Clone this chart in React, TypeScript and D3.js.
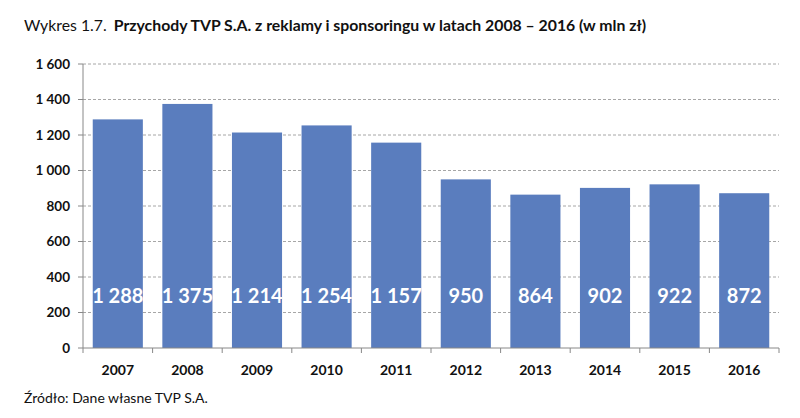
import React from "react";
import * as d3 from "d3";

const years = ["2007", "2008", "2009", "2010", "2011", "2012", "2013", "2014", "2015", "2016"];
const revenue = [1288, 1375, 1214, 1254, 1157, 950, 864, 902, 922, 872];
const yTicks = [0, 200, 400, 600, 800, 1000, 1200, 1400, 1600];
const titlePrefix = "Wykres 1.7.";
const titleMain = "Przychody TVP S.A. z reklamy i sponsoringu w latach 2008 – 2016 (w mln zł)";
const sourceText = "Źródło: Dane własne TVP S.A.";

const W = 800, H = 418;
const left = 83, right = 779, top = 64, bottom = 348;
const font = "Lato, 'Open Sans', sans-serif";

const fmt = (v: number) => {
  const s = String(v);
  return s.length > 3 ? s.slice(0, s.length - 3) + "\u00a0" + s.slice(-3) : s;
};

export default function App() {
  const x = d3.scaleBand<string>().domain(years).range([left, right]).paddingInner(0.28).paddingOuter(0.14);
  const y = d3.scaleLinear().domain([0, 1600]).range([bottom, top]);
  const step = (right - left) / years.length;
  return (
    <svg width={W} height={H} style={{ display: "block", position: "absolute", left: 0, top: 0 }} fontFamily={font}>
      <rect width={W} height={H} fill="#fff" />
      <text x={24} y={31} fontSize={15.8} fill="#111">
        <tspan>{titlePrefix}</tspan>
        <tspan dx={7} fontWeight="bold">{titleMain}</tspan>
      </text>
      {yTicks.filter((t) => t > 0).map((t) => (
        <line key={t} x1={left} x2={right} y1={y(t)} y2={y(t)} stroke="#a6a6a6" strokeWidth={1} strokeDasharray="3,2" />
      ))}
      {years.map((yr, i) => (
        <rect key={yr} x={x(yr)} y={y(revenue[i])} width={x.bandwidth()} height={bottom - y(revenue[i])} fill="#5a7dbe" />
      ))}
      <line x1={left} x2={left} y1={top} y2={bottom} stroke="#888" />
      <line x1={left} x2={right} y1={bottom} y2={bottom} stroke="#888" />
      {yTicks.map((t) => (
        <g key={t}>
          <line x1={left - 5} x2={left} y1={y(t)} y2={y(t)} stroke="#888" />
          <text x={70} y={y(t)} dy="0.35em" textAnchor="end" fontSize={13.5} fontWeight="bold" fill="#111">{fmt(t)}</text>
        </g>
      ))}
      {d3.range(years.length + 1).map((i) => (
        <line key={i} x1={left + i * step} x2={left + i * step} y1={bottom} y2={bottom + 5} stroke="#888" />
      ))}
      {years.map((yr, i) => (
        <g key={yr}>
          <text x={x(yr)! + x.bandwidth() / 2} y={370} dy="0.35em" textAnchor="middle" fontSize={14} fontWeight="bold" fill="#111">{yr}</text>
          <text x={x(yr)! + x.bandwidth() / 2} y={296} dy="0.35em" textAnchor="middle" fontSize={20} fontWeight="bold" fill="#fff">{fmt(revenue[i])}</text>
        </g>
      ))}
      <text x={24} y={403} fontSize={14} fill="#111">{sourceText}</text>
    </svg>
  );
}
